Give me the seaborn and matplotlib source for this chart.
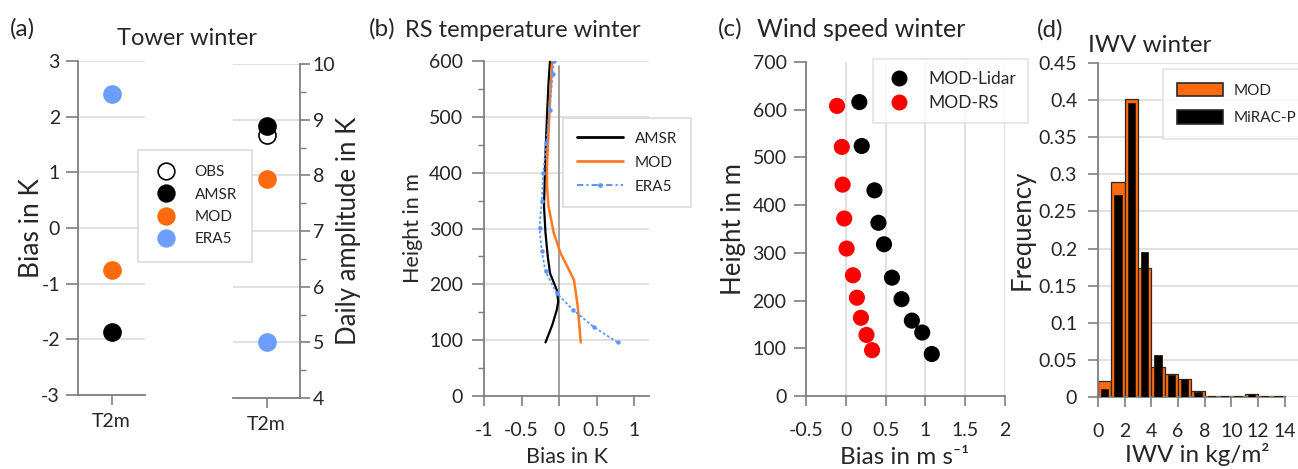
import numpy as np
import pandas as pd
import matplotlib
matplotlib.use("Agg")
import matplotlib.pyplot as plt
from matplotlib.lines import Line2D
from matplotlib.patches import Patch
from matplotlib.ticker import MultipleLocator, FuncFormatter
import seaborn as sns

# ---- (a) tower, winter ----
tower_names = ["OBS", "AMSR", "MOD", "ERA5"]
tower_bias = [np.nan, -1.87, -0.76, 2.40]
tower_amp = [8.73, 8.88, 7.94, 5.01]

# ---- (b) radiosonde temperature bias profiles ----
amsr_h = [96, 127, 154, 169, 190, 220, 250, 292, 340, 435, 501, 560, 600]
amsr_bias = [-0.18, -0.09, -0.03, -0.01, -0.03, -0.12, -0.15, -0.18, -0.20, -0.18, -0.16, -0.14, -0.12]
mod_h = [96, 160, 208, 256, 292, 340, 376, 411, 471, 531, 600]
mod_bias = [0.29, 0.25, 0.20, 0.02, -0.07, -0.14, -0.16, -0.16, -0.14, -0.12, -0.09]
era5_h = [96, 124, 154, 184, 223, 259, 301, 349, 400, 453, 513, 576, 600]
era5_bias = [0.78, 0.46, 0.19, -0.03, -0.18, -0.23, -0.26, -0.23, -0.21, -0.17, -0.125, -0.085, -0.07]

# ---- (c) wind speed bias ----
lidar_h = [616, 524, 431, 363, 318, 248, 203, 158, 133, 88]
lidar_bias = [0.17, 0.20, 0.36, 0.41, 0.48, 0.58, 0.70, 0.83, 0.96, 1.08]
rs_h = [608, 522, 443, 372, 309, 253, 206, 164, 128, 96]
rs_bias = [-0.11, -0.05, -0.04, -0.02, 0.01, 0.09, 0.14, 0.19, 0.26, 0.33]

# ---- (d) IWV histogram ----
iwv_edges = [0, 1, 2, 3, 4, 5, 6, 7, 8, 9, 10, 11, 12, 13, 14]
mod_freq = [0.022, 0.289, 0.401, 0.174, 0.041, 0.031, 0.024, 0.008, 0.002, 0.001, 0.001, 0.004, 0.002, 0.001]
mirac_freq = [0.011, 0.272, 0.396, 0.195, 0.057, 0.030, 0.024, 0.007, 0.002, 0.001, 0.001, 0.004, 0.002, 0.001]

ORANGE = "#FF6A0D"
BLUE = "#6C9EFF"
LINE_ORANGE = "#FF7A22"
LINE_BLUE = "#5E97FF"
GRID = "#DCDCDC"
SPINE = "#7F7F7F"
TXT = "#262626"

sns.set_style("ticks")
plt.rcParams["font.family"] = ["Lato", "DejaVu Sans"]
plt.rcParams["axes.unicode_minus"] = False
plt.rcParams["text.color"] = TXT
plt.rcParams["axes.labelcolor"] = TXT
plt.rcParams["xtick.color"] = SPINE
plt.rcParams["ytick.color"] = SPINE
plt.rcParams["xtick.labelcolor"] = TXT
plt.rcParams["ytick.labelcolor"] = TXT

W, H = 1298, 469
fig = plt.figure(figsize=(W / 100, H / 100), dpi=100)


def px_axes(x0, y0, x1, y1):
    # pixel box (top-left origin) -> figure axes
    return fig.add_axes([x0 / W, 1 - y1 / H, (x1 - x0) / W, (y1 - y0) / H])


def style(ax, left=True, bottom=True, right=False):
    for s in ["top", "right", "left", "bottom"]:
        ax.spines[s].set_visible(False)
    for s, on in [("left", left), ("bottom", bottom), ("right", right)]:
        if on:
            ax.spines[s].set_visible(True)
            ax.spines[s].set_color(SPINE)
            ax.spines[s].set_linewidth(1.3)
    ax.tick_params(direction="out", length=7, width=1.2, labelsize=14)
    ax.set_facecolor("white")


gfmt = FuncFormatter(lambda v, p: "%g" % round(v, 4))

ax_a1 = px_axes(78, 61, 145, 395)
ax_a2 = px_axes(233, 64, 300, 398)
ax_b = px_axes(484, 61, 649, 396)
ax_c = px_axes(806, 62, 1005, 396)
ax_d = px_axes(1098, 63, 1298, 397)

# ---------- (a) ----------
tower = pd.DataFrame({"name": tower_names, "bias": tower_bias, "amp": tower_amp, "x": 0.0})
face = {"OBS": "white", "AMSR": "black", "MOD": ORANGE, "ERA5": BLUE}
edge = {"OBS": "black", "AMSR": "black", "MOD": ORANGE, "ERA5": BLUE}
for ax, col in [(ax_a1, "bias"), (ax_a2, "amp")]:
    for nm in tower_names:
        sub = tower[tower["name"] == nm].dropna(subset=[col])
        if len(sub):
            sns.scatterplot(data=sub, x="x", y=col, ax=ax, s=150, color=face[nm],
                            edgecolor=edge[nm], linewidth=1.2, zorder=3, legend=False)
    ax.set_xlim(-0.5, 0.5)
    ax.set_xticks([0])
    ax.set_xticklabels(["T2m"])
    ax.grid(axis="y", color=GRID, lw=1.2)
    ax.set_axisbelow(True)

style(ax_a1)
ax_a1.set_ylim(-3, 3)
ax_a1.set_yticks(range(-3, 4))
ax_a1.tick_params(axis="y", pad=4, length=9)
ax_a1.tick_params(axis="x", pad=6)
ax_a1.set_ylabel("Bias in K", fontsize=19, va="center")
ax_a1.yaxis.set_label_coords(-0.69, 0.5)
ax_a1.set_xlabel("")

style(ax_a2, left=False, right=True)
ax_a2.set_ylim(4, 10)
ax_a2.yaxis.tick_right()
ax_a2.yaxis.set_label_position("right")
ax_a2.set_yticks(range(4, 11))
ax_a2.yaxis.set_minor_locator(MultipleLocator(0.5))
ax_a2.tick_params(axis="y", which="minor", direction="out", length=4, width=1.0, color=SPINE)
ax_a2.tick_params(axis="y", pad=2)
ax_a2.tick_params(axis="x", pad=6)
ax_a2.set_ylabel("Daily amplitude in K", fontsize=18.5, va="center", rotation=90)
ax_a2.yaxis.set_label_coords(1.72, 0.5)
ax_a2.set_xlabel("")

# legend spans both tower axes, so put it on the figure
h_a = [Line2D([], [], ls="", marker="o", markersize=12, markerfacecolor=face[n],
              markeredgecolor=edge[n], markeredgewidth=1.2, label=n) for n in tower_names]
leg = fig.legend(handles=h_a, loc="upper left", bbox_to_anchor=(138 / W, 1 - 150 / H),
                 fontsize=11, frameon=True, fancybox=False, framealpha=1,
                 edgecolor=GRID, borderpad=1.0, labelspacing=0.55, handletextpad=1.1,
                 borderaxespad=0, handlelength=1.6)
leg.get_frame().set_linewidth(1.2)

# ---------- (b) ----------
style(ax_b)
prof = pd.concat([
    pd.DataFrame({"h": amsr_h, "bias": amsr_bias, "src": "AMSR"}),
    pd.DataFrame({"h": mod_h, "bias": mod_bias, "src": "MOD"}),
    pd.DataFrame({"h": era5_h, "bias": era5_bias, "src": "ERA5"}),
])
ax_b.axvline(0, ymin=0, ymax=0.985, color="#9A9A9A", lw=1.3, zorder=1)
sns.lineplot(data=prof[prof.src == "AMSR"], x="bias", y="h", sort=False, estimator=None,
             color="black", lw=1.6, ax=ax_b, zorder=3)
sns.lineplot(data=prof[prof.src == "MOD"], x="bias", y="h", sort=False, estimator=None,
             color=LINE_ORANGE, lw=1.8, ax=ax_b, zorder=3)
sns.lineplot(data=prof[prof.src == "ERA5"], x="bias", y="h", sort=False, estimator=None,
             color=LINE_BLUE, lw=1.3, ls=(0, (1.5, 1.2)), marker="o", markersize=3.2,
             markeredgewidth=0, ax=ax_b, zorder=4)
ax_b.set_xlim(-1, 1.2)
ax_b.set_ylim(0, 600)
ax_b.set_xticks([-1, -0.5, 0, 0.5, 1])
ax_b.xaxis.set_major_formatter(gfmt)
ax_b.yaxis.set_minor_locator(MultipleLocator(50))
ax_b.tick_params(axis="y", which="minor", direction="out", length=4, width=1.0, color=SPINE)
ax_b.tick_params(axis="y", pad=6, length=9)
ax_b.tick_params(axis="x", pad=12)
ax_b.grid(axis="y", color=GRID, lw=1.2)
ax_b.set_axisbelow(True)
ax_b.set_ylabel("Height in m", fontsize=15.5, va="center")
ax_b.yaxis.set_label_coords(-0.43, 0.5)
ax_b.set_xlabel("Bias in K", fontsize=15.5, va="center")
ax_b.xaxis.set_label_coords(0.503, -0.182)
h_b = [Line2D([], [], color="black", lw=2, label="AMSR"),
       Line2D([], [], color=LINE_ORANGE, lw=2, label="MOD"),
       Line2D([], [], color=LINE_BLUE, lw=1.5, ls=(0, (3, 1.5, 1, 1.5)), marker="o", markersize=3.5,
              markevery=[0, 2, 4], markeredgewidth=0, label="ERA5")]
leg = fig.legend(handles=h_b, loc="upper left", bbox_to_anchor=(563 / W, 1 - 118 / H),
                 fontsize=11, frameon=True, fancybox=False, framealpha=1,
                 edgecolor=GRID, borderpad=0.9, labelspacing=0.65, handletextpad=0.8,
                 borderaxespad=0, handlelength=3.0)
leg.get_frame().set_linewidth(1.2)

# ---------- (c) ----------
style(ax_c)
wind = pd.concat([
    pd.DataFrame({"h": lidar_h, "bias": lidar_bias, "src": "MOD-Lidar"}),
    pd.DataFrame({"h": rs_h, "bias": rs_bias, "src": "MOD-RS"}),
])
sns.scatterplot(data=wind, x="bias", y="h", hue="src", palette={"MOD-Lidar": "black", "MOD-RS": "#FF0000"},
                s=135, linewidth=0, ax=ax_c, zorder=3, legend=False)
ax_c.set_xlim(-0.5, 2)
ax_c.set_ylim(0, 700)
ax_c.set_xticks([-0.5, 0, 0.5, 1, 1.5, 2])
ax_c.xaxis.set_major_formatter(gfmt)
ax_c.set_yticks(range(0, 701, 100))
ax_c.grid(axis="x", color=GRID, lw=1.2)
ax_c.set_axisbelow(True)
ax_c.tick_params(axis="y", pad=5, length=9)
ax_c.tick_params(axis="x", pad=12)
ax_c.set_ylabel("Height in m", fontsize=18.5, va="center")
ax_c.yaxis.set_label_coords(-0.362, 0.5)
ax_c.set_xlabel("Bias in m s⁻¹", fontsize=17.5, va="center")
ax_c.xaxis.set_label_coords(0.497, -0.183)
h_c = [Line2D([], [], ls="", marker="o", markersize=11.5, markerfacecolor=c, markeredgewidth=0, label=n)
       for n, c in [("MOD-Lidar", "black"), ("MOD-RS", "#FF0000")]]
leg = ax_c.legend(handles=h_c, loc="upper left", bbox_to_anchor=(873 / W, 1 - 59 / H),
                  bbox_transform=fig.transFigure, fontsize=12.5, frameon=True, fancybox=False,
                  edgecolor=GRID, borderpad=0.7, labelspacing=0.45, handletextpad=0.9,
                  borderaxespad=0, handlelength=1.6)
leg.get_frame().set_linewidth(1.2)

# ---------- (d) ----------
style(ax_d)
centers = [(a + b) / 2 for a, b in zip(iwv_edges[:-1], iwv_edges[1:])]
sns.histplot(x=centers, weights=mod_freq, bins=iwv_edges, color=ORANGE, alpha=1,
             edgecolor="#2A2A2A", linewidth=0.9, ax=ax_d, zorder=2)
sns.histplot(x=centers, weights=mirac_freq, bins=iwv_edges, shrink=0.55, color="black", alpha=1,
             edgecolor="#3A1800", linewidth=0.6, ax=ax_d, zorder=3)
ax_d.set_xlim(0, 15)
ax_d.set_ylim(0, 0.45)
ax_d.set_xticks(range(0, 15, 2))
ax_d.spines["bottom"].set_bounds(0, 14)
ax_d.yaxis.set_major_locator(MultipleLocator(0.05))
ax_d.yaxis.set_major_formatter(gfmt)
ax_d.grid(axis="y", color=GRID, lw=1.2)
ax_d.set_axisbelow(True)
ax_d.tick_params(axis="y", pad=8)
ax_d.tick_params(axis="x", pad=12)
ax_d.set_ylabel("Frequency", fontsize=18.5, va="center")
ax_d.yaxis.set_label_coords(-0.38, 0.5)
ax_d.set_xlabel("IWV in kg/m²", fontsize=17.5, va="center")
ax_d.xaxis.set_label_coords(0.495, -0.172)
h_d = [Patch(facecolor=ORANGE, edgecolor="#2A2A2A", lw=1.2, label="MOD"),
       Patch(facecolor="black", edgecolor="#2A2A2A", lw=1.2, label="MiRAC-P")]
leg = ax_d.legend(handles=h_d, loc="upper left", bbox_to_anchor=(1163 / W, 1 - 69 / H),
                  bbox_transform=fig.transFigure, fontsize=11, frameon=True, fancybox=False,
                  edgecolor=GRID, borderpad=0.9, labelspacing=0.8, handletextpad=0.7,
                  borderaxespad=0, handlelength=3.0, handleheight=1.0)
leg.get_frame().set_linewidth(1.2)

# ---------- titles ----------
def ftxt(x, y, s, size, ha="left"):
    fig.text(x / W, 1 - y / H, s, fontsize=size, ha=ha, va="baseline", color=TXT)

ftxt(10, 36, "(a)", 17.5)
ftxt(187, 45, "Tower winter", 17, ha="center")
ftxt(369, 36, "(b)", 17.5)
ftxt(405, 37, "RS temperature winter", 17)
ftxt(718, 36, "(c)", 17.5)
ftxt(757, 37, "Wind speed winter", 18)
ftxt(1037, 37, "(d)", 17.5)
ftxt(1088, 52, "IWV winter", 17.5)

fig.savefig("out.png", dpi=100)
